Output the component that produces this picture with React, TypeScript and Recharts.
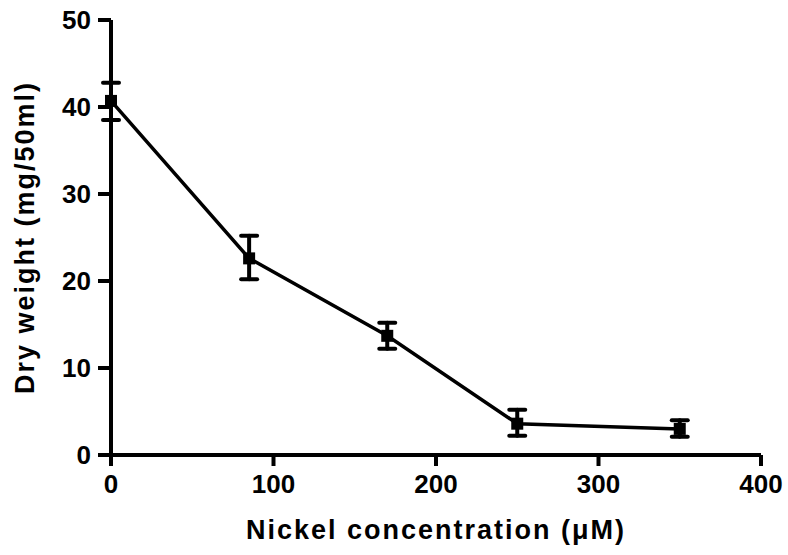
import React from "react";
import { LineChart, Line, XAxis, YAxis, ErrorBar, Label } from "recharts";

const nickel = [0, 85, 170, 250, 350];
const dryWeight = [40.7, 22.6, 13.7, 3.6, 3.0];
const errLow = [2.2, 2.4, 1.5, 1.4, 0.9];
const errHigh = [2.1, 2.6, 1.5, 1.6, 1.0];
const xTicks = [0, 100, 200, 300, 400];
const yTicks = [0, 10, 20, 30, 40, 50];

const data = nickel.map((x, i) => ({
  x,
  y: dryWeight[i],
  err: [errLow[i], errHigh[i]],
}));

const FONT = "'Liberation Sans', Arial, sans-serif";
const tickStyle = { fill: "#000", fontSize: 26, fontWeight: 700, fontFamily: FONT };
const titleStyle = { fill: "#000", fontSize: 27, fontWeight: 700, fontFamily: FONT, letterSpacing: 2 };
const axisLine = { stroke: "#000", strokeWidth: 4 };

const SquareDot = (props: any) => {
  const { cx, cy, index } = props;
  return <rect key={`dot-${index}`} x={cx - 6} y={cy - 6} width={12} height={12} fill="#000" />;
};

export default function App() {
  return (
    <div style={{ position: "absolute", left: 0, top: 0, background: "#fff" }}>
      <LineChart
        width={788}
        height={555}
        data={data}
        margin={{ top: 20, right: 27, bottom: 40, left: 0 }}
      >
        <XAxis
          dataKey="x"
          type="number"
          domain={[0, 400]}
          ticks={xTicks}
          height={60}
          axisLine={axisLine}
          tickLine={axisLine}
          tickSize={11}
          tick={tickStyle}
          tickMargin={9}
        >
          <Label
            value="Nickel concentration (μM)"
            position="insideBottom"
            offset={-24}
            style={titleStyle}
          />
        </XAxis>
        <YAxis
          type="number"
          domain={[0, 50]}
          ticks={yTicks}
          width={111}
          axisLine={axisLine}
          tickLine={axisLine}
          tickSize={13}
          tick={tickStyle}
          tickMargin={7}
        >
          <Label
            value="Dry weight (mg/50ml)"
            angle={-90}
            position="insideLeft"
            offset={24}
            style={{ ...titleStyle, textAnchor: "middle" }}
          />
        </YAxis>
        <Line
          dataKey="y"
          stroke="#000"
          strokeWidth={3.5}
          dot={SquareDot}
          activeDot={false}
          isAnimationActive={false}
        >
          <ErrorBar
            dataKey="err"
            direction="y"
            width={8}
            stroke="#000"
            strokeWidth={4}
            strokeLinecap="round"
          />
        </Line>
      </LineChart>
    </div>
  );
}
